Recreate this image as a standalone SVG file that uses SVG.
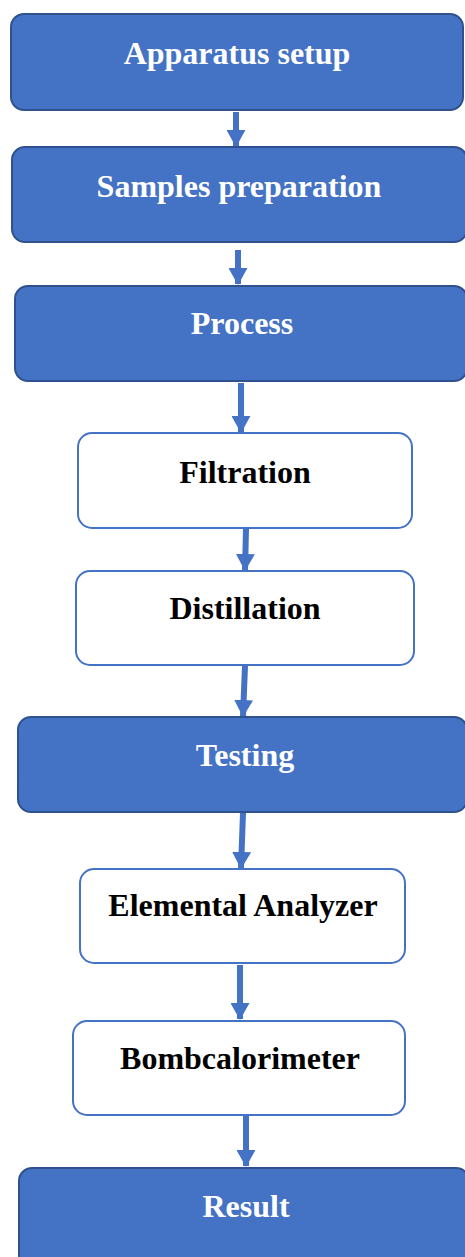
<svg xmlns="http://www.w3.org/2000/svg" width="465" height="1257" viewBox="0 0 465 1257">
<style>
.blue{fill:#4472C4;stroke:#2F528F;stroke-width:2}
.white{fill:#FFFFFF;stroke:#4472C4;stroke-width:2}
.tw{font-family:"Liberation Serif","Times New Roman",serif;font-weight:bold;font-size:32px;fill:#FFFFFF;text-anchor:middle}
.tb{font-family:"Liberation Serif","Times New Roman",serif;font-weight:bold;font-size:32px;fill:#000000;text-anchor:middle}
.c{stroke:#4472C4;stroke-width:6;fill:none}
</style>
<defs>
<marker id="ah" markerUnits="userSpaceOnUse" markerWidth="17" markerHeight="19" refX="16" refY="9.5" orient="auto" viewBox="0 0 17 19">
<path d="M0,0 L17,9.5 L0,19 Z" fill="#4472C4"/>
</marker>
</defs>
<rect width="465" height="1257" fill="#FFFFFF"/>
<g id="connectors">
<line class="c" x1="236" y1="112" x2="236" y2="146" marker-end="url(#ah)"/>
<line class="c" x1="238" y1="250" x2="238" y2="284" marker-end="url(#ah)"/>
<line class="c" x1="241" y1="383" x2="241" y2="432" marker-end="url(#ah)"/>
<line class="c" x1="246" y1="529" x2="245" y2="570" marker-end="url(#ah)"/>
<line class="c" x1="245" y1="666" x2="243" y2="716" marker-end="url(#ah)"/>
<line class="c" x1="243" y1="813" x2="241" y2="868" marker-end="url(#ah)"/>
<line class="c" x1="240" y1="965" x2="240" y2="1019" marker-end="url(#ah)"/>
<line class="c" x1="246" y1="1116" x2="246" y2="1166" marker-end="url(#ah)"/>
</g>
<g id="n1"><rect class="blue" x="11" y="14" width="452" height="96" rx="13"/><text class="tw" x="237" y="64">Apparatus setup</text></g>
<g id="n2"><rect class="blue" x="12" y="147" width="455" height="95" rx="13"/><text class="tw" x="239" y="197">Samples preparation</text></g>
<g id="n3"><rect class="blue" x="15" y="286" width="452" height="95" rx="13"/><text class="tw" x="242" y="334">Process</text></g>
<g id="n4"><rect class="white" x="78" y="433" width="334" height="95" rx="14"/><text class="tb" x="245" y="483">Filtration</text></g>
<g id="n5"><rect class="white" x="76" y="571" width="338" height="94" rx="14"/><text class="tb" x="245" y="619">Distillation</text></g>
<g id="n6"><rect class="blue" x="18" y="717" width="449" height="95" rx="13"/><text class="tw" x="245" y="766">Testing</text></g>
<g id="n7"><rect class="white" x="80" y="869" width="325" height="94" rx="14"/><text class="tb" x="243" y="916">Elemental Analyzer</text></g>
<g id="n8"><rect class="white" x="73" y="1021" width="332" height="94" rx="14"/><text class="tb" x="240" y="1069">Bombcalorimeter</text></g>
<g id="n9"><rect class="blue" x="19" y="1168" width="450" height="100" rx="13"/><text class="tw" x="246" y="1217">Result</text></g>
</svg>
